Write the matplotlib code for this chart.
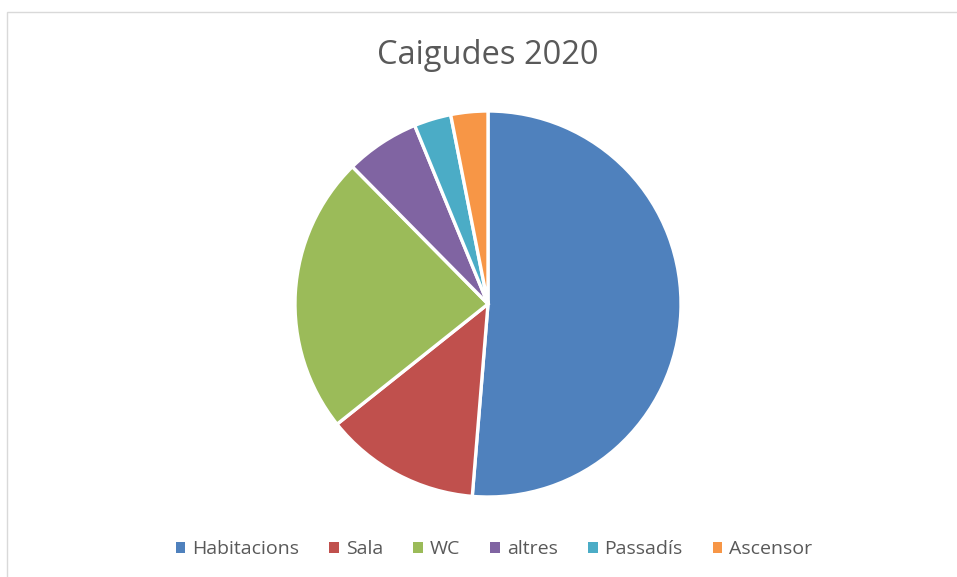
import matplotlib
matplotlib.use("Agg")
import matplotlib.pyplot as plt
from matplotlib.patches import Rectangle

categories = ["Habitacions", "Sala", "WC", "altres", "Passadís", "Ascensor"]
values = [51.3, 13.0, 23.3, 6.2, 3.1, 3.1]
colors = ["#4F81BD", "#C0504D", "#9BBB59", "#8064A2", "#4BACC6", "#F79646"]
title = "Caigudes 2020"

W, H = 957, 577
fig = plt.figure(figsize=(W / 100, H / 100), dpi=100)
fig.patch.set_facecolor("white")

# chart frame (light gray border)
fig.add_artist(Rectangle((7.5 / W, -0.1), 1.2, (H - 11.5) / H + 0.1,
                         transform=fig.transFigure, fill=False,
                         edgecolor="#D9D9D9", linewidth=1.0))

# pie axes
cx, cy, r = 488, 304, 193
ax = fig.add_axes([(cx - r) / W, (H - cy - r) / H, 2 * r / W, 2 * r / H])
wedges, _ = ax.pie(values, colors=colors, startangle=90, counterclock=False,
                   radius=1.0,
                   wedgeprops=dict(edgecolor="white", linewidth=2.4))
ax.set_xlim(-1, 1)
ax.set_ylim(-1, 1)
ax.set_aspect("equal")
ax.axis("off")

fig.text(488 / W, 1 - 55 / H, title, ha="center", va="center",
         fontsize=23.5, color="#595959", family="Open Sans")

leg = fig.legend(wedges, categories, loc="center", bbox_to_anchor=(494 / W, 1 - 549 / H),
                 ncol=6, frameon=False, handlelength=0.5, handleheight=0.5,
                 handletextpad=0.35, columnspacing=1.55,
                 prop=dict(family="Open Sans", size=14))
for t in leg.get_texts():
    t.set_color("#595959")
for h in leg.legend_handles:
    h.set_edgecolor("none")

fig.savefig("out.png", dpi=100)
